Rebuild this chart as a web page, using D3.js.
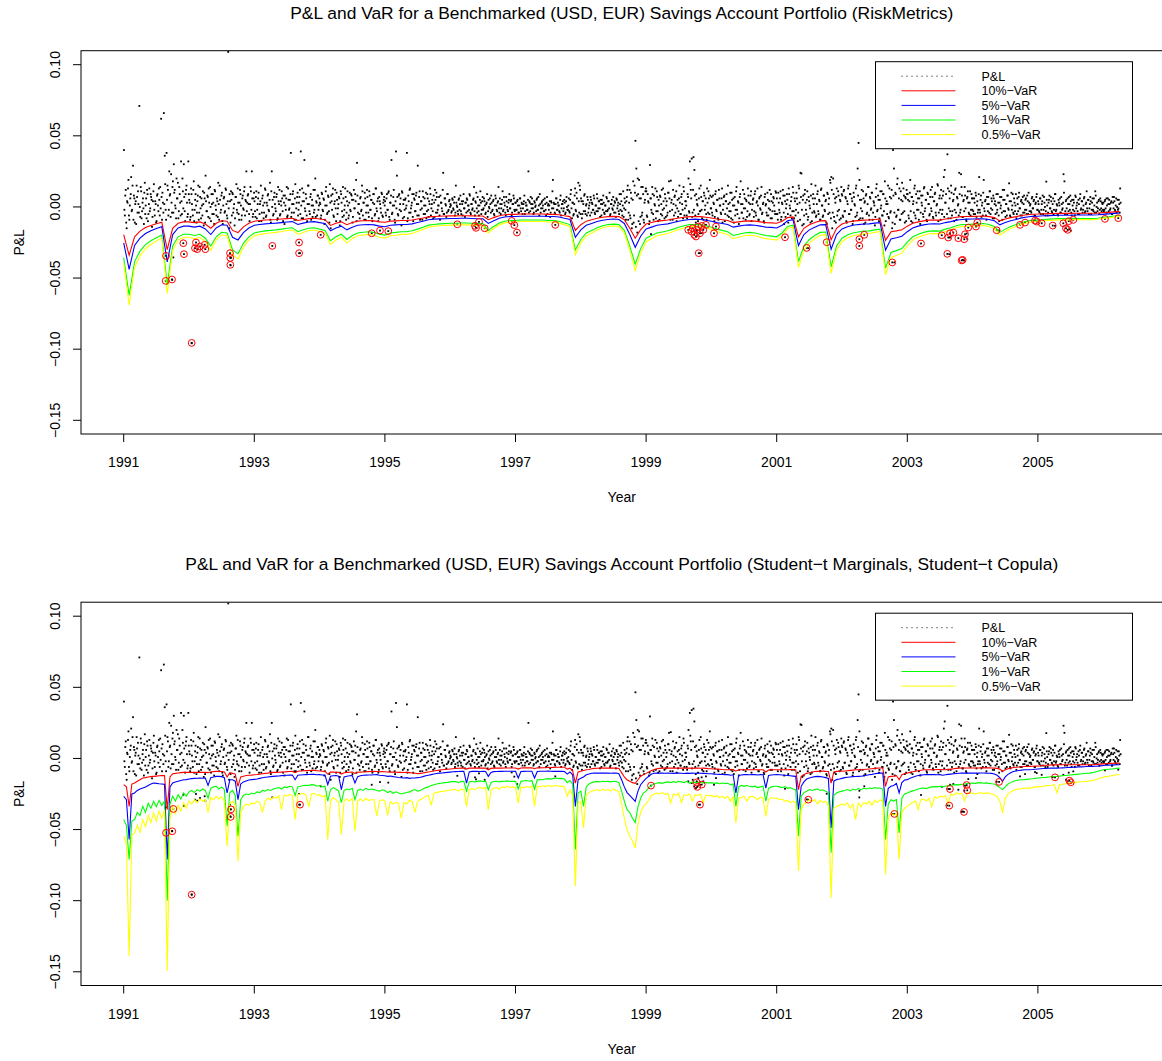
<!DOCTYPE html>
<html>
<head>
<meta charset="utf-8">
<script src="https://cdn.jsdelivr.net/npm/d3@7"></script>
<style>
  body { margin: 0; background: #fff; }
  text { font-family: "Liberation Sans", Arial, Helvetica, sans-serif; fill: #000; }
</style>
</head>
<body>
<div id="chart"></div>
<script>
// ---- data (all values in basis points, 1bp = 0.0001) ----

// daily P&L, thinned: two interleaved runs of observations per calendar year
const pnl1991 = [400,-60,120,-150,30,190,-90,60,210,-20,290,80,-110,40,150,-40,20,710,-70,110,-30,60,-120,170,10,-80,90,-50,130,-10,70,-140,40,160,-60,20,-100,90,-30,50,140,620,-90,30,660,360,-20,380,150,-60,250,90,230,-40,180,300,120,-10,200,60,-80,140,30,320,-50,110,300,-30,90,150,-70,320];
const pnl1991b = [-20,80,-110,40,130,-60,10,90,-30,150,-90,60,20,-120,70,110,-40,0,140,-80,30,-10,100,-50,60,120,-100,20,-30,90,50,-70,110,-20,40,-110,80,10,130,-60,-10,70,100,-40,20,160,-90,50,120,-20,80,-70,30,140,-40,100,10,-80,60,170,-30,90,-60,40,200,-10,70,-100,120,30,-50,90];
const pnl1992 = [50,-90,130,20,-60,180,-20,90,-110,40,150,-40,70,-80,10,110,-130,60,220,-30,80,-70,30,140,-100,20,90,-50,120,10,-60,40,170,-90,50,-20,100,-120,60,-40,130,20,-80,1090,-150,40,110,-60,90,-10,-130,70,160,-40,30,-90,120,10,-60,80,-20,140,50,250,30,90,-50,20,110,250,-70,60];
const pnl1992b = [30,-70,90,-20,120,-100,50,10,-40,80,-90,140,-10,60,-60,20,100,-110,40,-30,70,130,-80,0,90,-50,30,-120,110,-20,60,-70,20,150,-40,80,-100,10,70,-30,120,-60,40,-10,90,-110,50,100,-40,20,-80,70,-20,130,-50,30,90,-90,60,-10,110,-60,40,-30,80,20,-100,140,-20,60,-50,100];
const pnl1993 = [40,-70,110,-20,60,-100,20,150,-40,80,-80,30,120,-60,10,90,-30,170,-110,250,50,-50,100,-10,70,-90,140,20,-60,40,110,-30,80,-120,10,60,-70,130,-20,50,380,-40,90,20,-90,160,-10,70,-60,30,120,390,-80,40,100,330,-30,60,-100,150,20,-50,90,10,-70,120,-20,200,40,-60,80,10];
const pnl1993b = [-30,70,-80,20,100,-50,40,-100,60,10,-40,130,-70,30,80,-20,50,-90,110,0,-60,70,20,-30,90,-80,40,120,-50,10,60,-100,30,80,-20,140,-60,50,-10,90,-70,20,110,-40,60,-90,30,100,-20,70,-50,10,130,-80,40,-10,90,-60,20,150,-30,70,-90,50,10,-40,120,-70,30,80,-20,60];
const pnl1994 = [30,-80,100,-20,60,-120,10,140,-50,80,-30,160,-150,40,90,-60,20,120,-100,50,-10,70,-130,110,30,-70,60,-20,130,-90,40,10,-60,100,-30,80,-110,50,-10,90,190,310,-40,20,-80,70,-20,110,30,-90,60,-40,120,10,-70,80,-20,50,-100,90,20,-50,130,-30,60,-80,40,-10,100,-60,30,70];
const pnl1994b = [20,-60,90,-30,50,-90,110,10,-40,70,-110,30,80,-20,130,-70,40,-10,100,-50,20,60,-100,90,-30,140,-60,10,70,-40,110,-80,30,-20,90,50,-70,120,-10,40,-100,80,20,-50,60,-30,150,-60,30,100,-90,10,70,-40,110,-20,50,-80,30,90,-60,130,-10,40,-100,70,20,-40,90,-70,50,10];
const pnl1995 = [40,-60,90,-20,110,-90,30,330,-40,70,10,-110,390,220,-50,80,-20,60,-130,100,20,-70,50,-10,380,-80,40,120,-40,10,90,-100,60,-30,80,20,290,-60,110,-20,40,-90,70,10,-50,100,-30,60,-70,20,90,-10,50,-80,30,120,-40,70,-20,10,-60,80,30,-30,240,-50,60,10,-40,90,-20,50];
const pnl1995b = [-40,60,-20,100,-70,30,80,-50,10,120,-90,40,-10,70,-60,90,20,-30,110,-80,50,-20,60,10,-100,80,-40,130,-10,30,-70,90,50,-30,100,-60,20,70,-90,40,-10,110,-50,60,10,-80,90,-20,40,130,-60,20,-30,80,-70,50,100,-40,10,70,-90,30,-10,120,-50,60,20,-70,90,-30,40,0];
const pnl1996 = [20,-40,60,-10,30,-60,150,10,-30,50,-20,80,-50,20,40,-10,-70,30,60,-30,10,90,-40,20,-20,50,140,-60,30,-10,70,-30,10,110,-50,40,-20,60,10,-40,30,-70,50,-10,20,80,-30,40,-50,10,60,-20,30,140,-40,20,-10,50,-30,70,10,-60,40,-20,30,90,-10,50,-40,20,60,-30];
const pnl1996b = [10,-30,50,-20,70,-40,30,0,-50,60,20,-30,40,-60,90,-10,30,-40,50,10,-20,80,-50,20,-10,60,-30,40,100,-40,10,-60,50,30,-20,70,-10,40,-50,20,90,-30,0,60,-40,30,-20,50,-60,80,10,-30,40,-10,60,-50,20,110,-20,30,-40,70,0,-30,50,-10,40,-60,20,80,-20,30];
const pnl1997 = [30,-20,50,-40,10,60,-30,20,-10,40,-50,30,10,-20,250,40,-30,20,60,-10,-40,30,10,50,-20,70,-60,20,-10,40,10,-30,60,-20,30,-50,20,10,-70,40,-10,190,30,-40,20,60,-20,10,-30,50,-60,20,40,-10,30,-40,70,-20,10,-30,50,120,-80,30,-50,80,-20,100,-60,170,-40,120];
const pnl1997b = [-20,40,10,-40,60,-10,30,-50,20,80,-30,10,-20,50,-40,30,70,-10,20,-50,40,0,-30,60,-20,10,90,-40,30,-10,50,-30,20,-60,70,10,-20,40,-40,30,110,-10,20,-50,60,-20,30,10,-40,80,-10,20,-30,50,-50,40,0,-20,60,-40,90,-10,30,-60,20,130,-30,60,-70,40,150,-50];
const pnl1998 = [60,-80,40,-30,90,-50,20,70,-40,10,-60,50,30,-20,80,-40,10,-30,60,-10,40,-70,20,50,-20,30,-50,10,70,-30,40,-10,-60,20,50,-20,10,40,-40,60,-10,30,-50,20,90,-30,10,-70,60,-20,40,120,-90,30,-60,100,-150,50,-110,150,465,270,-180,90,190,-120,60,-60,140,-90,30,110];
const pnl1998b = [40,-50,20,80,-30,10,-60,50,-10,30,70,-40,20,-20,60,-50,10,90,-30,40,-10,50,-60,20,80,-40,10,-30,60,-20,40,100,-50,20,-10,70,-40,30,-70,50,10,-30,90,-20,40,-60,110,-10,30,-90,70,150,-40,120,-80,60,-120,180,-60,100,-140,80,200,-100,60,-70,140,-40,90,-110,50,130];
const pnl1999 = [110,-70,40,-120,295,60,-40,90,-90,20,130,-30,70,-100,10,80,-50,120,-20,40,-80,60,10,-60,100,180,-30,185,50,-90,20,70,-40,110,-10,-70,60,30,-50,90,-20,140,-60,40,10,-80,70,-30,320,120,340,-40,350,260,-60,90,20,-100,60,-30,150,-20,40,-90,80,10,-50,130,-40,60,190,-10];
const pnl1999b = [-60,90,30,-100,60,-20,140,-50,80,10,-80,110,-30,50,-90,70,20,-60,130,-10,90,-70,40,-40,100,60,-90,30,-20,120,-60,80,10,-100,50,-30,150,-50,70,20,-80,110,-10,40,-60,90,200,-40,160,60,-70,120,-20,80,-110,50,10,-50,130,-30,70,-80,40,100,-20,60,-90,30,110,-50,80,-10];
const pnl2000 = [70,-60,30,-100,90,-20,50,-80,120,10,-40,60,-110,20,80,-50,40,-10,150,-70,30,-30,100,-90,60,10,-60,110,-20,40,-120,70,180,-40,20,-80,90,-10,50,-70,130,30,-50,80,-100,20,60,-30,110,-60,40,10,-90,70,-20,140,-40,30,-110,90,20,-60,50,-10,120,-80,40,-30,70,10,-50,100];
const pnl2000b = [-40,80,20,-70,110,-30,50,-90,60,10,-50,130,-20,70,-100,40,90,-60,20,-30,100,-80,50,10,-110,70,-20,140,-50,30,-80,90,20,-40,120,-10,60,-90,40,-30,80,-60,20,110,-20,50,-70,90,-40,30,130,-90,60,-10,80,-50,20,-100,70,10,-40,100,-60,40,-20,90,-80,30,60,-30,110,-50];
const pnl2001 = [60,-90,30,-40,110,-70,20,80,-120,40,-10,90,-50,130,10,-60,70,-30,100,-80,40,-20,60,-100,150,30,240,235,-130,80,-60,120,-20,50,-90,70,10,-110,160,-40,90,-30,60,-70,20,110,-50,40,-90,130,10,-60,80,-30,50,-120,90,20,-40,170,210,-150,200,-70,60,-110,130,-30,80,-90,40,140];
const pnl2001b = [-50,100,-20,60,-90,30,120,-40,80,-70,20,50,-110,90,-10,40,-80,140,-30,60,-60,100,20,-40,130,-90,70,-20,50,-120,90,30,-50,110,-70,40,-10,80,-100,60,20,-40,150,-60,90,-30,50,-90,120,10,-70,80,-20,40,-110,100,-50,60,190,-80,120,-40,90,-100,30,70,-60,110,-20,50,-80,90];
const pnl2002 = [80,-70,120,-30,60,-110,20,150,-50,90,-20,40,-100,70,10,130,-60,270,450,190,-80,50,-30,110,-120,40,80,-50,20,140,-90,60,-10,100,-40,30,-130,70,160,-20,50,-80,110,10,-60,90,-30,180,-100,40,20,-70,130,-40,60,-150,400,270,-120,90,-60,200,-20,130,-90,50,170,-40,80,-110,60,120];
const pnl2002b = [-60,110,-30,70,-100,40,130,-50,90,-20,60,-120,100,20,-70,150,-40,80,-90,50,-10,120,-80,60,30,-110,90,-40,140,-60,70,-20,100,-90,40,10,-70,130,-30,80,-100,50,-10,110,-60,90,-130,60,20,-50,150,-80,70,-30,120,-110,80,-40,100,-70,160,-20,60,-90,110,-50,40,130,-30,70,-100,90];
const pnl2003 = [90,-60,40,190,-100,70,20,-40,150,-80,30,110,-20,60,-120,80,10,-50,130,-30,50,-90,100,20,-60,70,-10,140,-70,40,90,-40,10,160,-100,60,-20,120,-50,80,210,260,30,445,370,-80,110,-30,150,-60,40,90,-20,130,-90,60,20,240,-40,230,80,-70,50,140,-10,-100,70,30,-50,110,-20,60];
const pnl2003b = [50,-80,100,-30,70,-110,40,130,-60,90,-20,60,-90,110,-40,30,80,-70,140,-10,50,-100,90,20,-50,120,-30,70,-80,40,100,-60,20,150,-40,80,-90,60,-20,110,-70,30,90,-50,130,-10,60,-80,100,-30,50,-100,120,-40,70,10,-60,90,-20,140,-70,40,-30,80,-90,60,110,-40,30,-60,90,-20];
const pnl2004 = [60,-50,30,100,-70,40,-20,210,-40,80,10,-60,190,-30,50,-90,20,70,-40,110,-10,40,-80,60,20,-50,90,-20,30,-100,70,10,-40,120,-30,50,-70,20,80,-10,166,-60,40,-20,90,-50,30,10,-80,60,-30,100,-10,40,-60,70,20,-40,50,-20,80,-50,30,10,-30,60,-10,40,-60,20,70,-20];
const pnl2004b = [-30,60,-50,80,10,-40,90,-20,50,-70,30,100,-10,40,-60,70,-30,20,110,-50,60,-20,80,-80,40,10,-40,90,-60,30,-10,70,-90,50,120,-30,20,-60,80,-20,40,-70,100,10,-40,60,-30,90,-50,20,70,-10,-60,50,30,-40,80,-20,60,-50,40,100,-30,20,-40,70,-10,50,-60,30,90,-20];
const pnl2005 = [40,-30,60,-50,20,80,-20,30,-60,178,10,-40,50,-10,70,-30,20,-50,40,90,-20,10,-60,30,60,-40,20,-10,230,180,-30,50,-50,20,70,-20,40,-60,10,50,-30,80,-10,30,-50,20,60,-20,40,-40,10,70,-30,30,-10,50,-50,20,40,-20,60,-30,10,110,-40,30,-10,50,-20,40,-30,20];
const pnl2005b = [20,-40,60,-20,40,-50,70,0,-30,50,-60,30,80,-10,40,-40,60,-20,90,-30,20,-50,50,10,-40,70,-20,30,100,-50,40,-10,60,-30,20,80,-40,50,-20,30,-60,70,10,-30,50,-50,90,-10,40,-20,60,-40,20,110,-30,50,-10,70,-50,30,-20,60,-40,80,0,-30,40,-50,60,-10,30,-20];
const pnl2006 = [30,-20,50,-40,10,60,-30,20,-10,40,-50,30,70,-20,10,-40,50,-10,20,130];
const pnl2006b = [-30,40,-10,60,-40,20,50,-20,30,-50,70,-10,40,-30,60,0,-20,50,-40,30];

const pnlYears = [1991,1992,1993,1994,1995,1996,1997,1998,1999,2000,2001,2002,2003,2004,2005,2006];
const pnlRunA = [pnl1991,pnl1992,pnl1993,pnl1994,pnl1995,pnl1996,pnl1997,pnl1998,pnl1999,pnl2000,pnl2001,pnl2002,pnl2003,pnl2004,pnl2005,pnl2006];
const pnlRunB = [pnl1991b,pnl1992b,pnl1993b,pnl1994b,pnl1995b,pnl1996b,pnl1997b,pnl1998b,pnl1999b,pnl2000b,pnl2001b,pnl2002b,pnl2003b,pnl2004b,pnl2005b,pnl2006b];
const pnlYearSpan = [1,1,1,1,1,1,1,1,1,1,1,1,1,1,1,0.27];

// RiskMetrics VaR, one value per month, Jan 1991 .. Apr 2006
const rmVaR10 = [
  -195,-340,-210,-170,-145,-130,-118,-108,-300,-150,-115,-105,
  -105,-110,-105,-120,-150,-115,-97,-100,-165,-180,-140,-115,
  -100,-95,-92,-90,-88,-85,-82,-80,-95,-88,-82,-80,
  -85,-90,-130,-115,-105,-125,-110,-100,-97,-95,-98,-105,
  -108,-100,-98,-95,-95,-92,-85,-78,-70,-67,-65,-64,
  -63,-63,-62,-62,-63,-64,-64,-90,-75,-62,-55,-52,
  -52,-50,-50,-50,-50,-50,-52,-52,-55,-62,-68,-165,
  -125,-100,-90,-80,-72,-68,-66,-68,-90,-150,-220,-160,
  -120,-110,-100,-96,-92,-85,-78,-72,-68,-67,-68,-72,
  -78,-85,-90,-95,-110,-105,-100,-98,-100,-105,-110,-112,
  -115,-100,-75,-70,-210,-150,-125,-110,-98,-96,-230,-150,
  -120,-108,-100,-96,-93,-92,-88,-85,-235,-175,-168,-160,
  -135,-115,-105,-98,-93,-92,-93,-85,-80,-72,-68,-67,
  -66,-65,-64,-68,-75,-98,-85,-75,-68,-60,-55,-51,
  -50,-48,-47,-46,-45,-45,-45,-44,-44,-44,-44,-43,
  -40,-38,-35,-33];
const rmVaR5 = [
  -252,-439,-271,-219,-187,-168,-152,-139,-387,-194,-148,-135,
  -135,-142,-135,-155,-194,-148,-125,-129,-213,-232,-181,-148,
  -129,-123,-119,-116,-114,-110,-106,-103,-123,-114,-106,-103,
  -110,-116,-168,-148,-135,-161,-142,-129,-125,-123,-126,-135,
  -139,-129,-126,-123,-123,-119,-110,-101,-90,-86,-84,-83,
  -81,-81,-80,-80,-81,-83,-83,-116,-97,-80,-71,-67,
  -67,-65,-65,-65,-65,-65,-67,-67,-71,-80,-88,-213,
  -161,-129,-116,-103,-93,-88,-85,-88,-116,-194,-284,-206,
  -155,-142,-129,-124,-119,-110,-101,-93,-88,-86,-88,-93,
  -101,-110,-116,-123,-142,-135,-129,-126,-129,-135,-142,-144,
  -148,-129,-97,-90,-271,-194,-161,-142,-126,-124,-297,-194,
  -155,-139,-129,-124,-120,-119,-114,-110,-303,-226,-217,-206,
  -174,-148,-135,-126,-120,-119,-120,-110,-103,-93,-88,-86,
  -85,-84,-83,-88,-97,-126,-110,-97,-88,-77,-71,-66,
  -65,-62,-61,-59,-58,-58,-58,-57,-57,-57,-57,-55,
  -52,-49,-45,-43];
const rmVaR1 = [
  -357,-622,-384,-311,-265,-238,-216,-198,-549,-275,-210,-192,
  -192,-201,-192,-220,-275,-210,-178,-183,-302,-329,-256,-210,
  -183,-174,-168,-165,-161,-156,-150,-146,-174,-161,-150,-146,
  -156,-165,-238,-210,-192,-229,-201,-183,-178,-174,-179,-192,
  -198,-183,-179,-174,-174,-168,-156,-143,-128,-123,-119,-117,
  -115,-115,-113,-113,-115,-117,-117,-165,-137,-113,-101,-95,
  -95,-92,-92,-92,-92,-92,-95,-95,-101,-113,-124,-302,
  -229,-183,-165,-146,-132,-124,-121,-124,-165,-275,-403,-293,
  -220,-201,-183,-176,-168,-156,-143,-132,-124,-123,-124,-132,
  -143,-156,-165,-174,-201,-192,-183,-179,-183,-192,-201,-205,
  -210,-183,-137,-128,-384,-275,-229,-201,-179,-176,-421,-275,
  -220,-198,-183,-176,-170,-168,-161,-156,-430,-320,-307,-293,
  -247,-210,-192,-179,-170,-168,-170,-156,-146,-132,-124,-123,
  -121,-119,-117,-124,-137,-179,-156,-137,-124,-110,-101,-93,
  -92,-88,-86,-84,-82,-82,-82,-81,-81,-81,-81,-79,
  -73,-70,-64,-60];
const rmVaR05 = [
  -396,-690,-426,-345,-294,-264,-240,-219,-609,-305,-233,-213,
  -213,-223,-213,-244,-305,-233,-197,-203,-335,-365,-284,-233,
  -203,-193,-187,-183,-179,-173,-166,-162,-193,-179,-166,-162,
  -173,-183,-264,-233,-213,-254,-223,-203,-197,-193,-199,-213,
  -219,-203,-199,-193,-193,-187,-173,-158,-142,-136,-132,-130,
  -128,-128,-126,-126,-128,-130,-130,-183,-152,-126,-112,-106,
  -106,-102,-102,-102,-102,-102,-106,-106,-112,-126,-138,-335,
  -254,-203,-183,-162,-146,-138,-134,-138,-183,-305,-447,-325,
  -244,-223,-203,-195,-187,-173,-158,-146,-138,-136,-138,-146,
  -158,-173,-183,-193,-223,-213,-203,-199,-203,-213,-223,-227,
  -233,-203,-152,-142,-426,-305,-254,-223,-199,-195,-467,-305,
  -244,-219,-203,-195,-189,-187,-179,-173,-477,-355,-341,-325,
  -274,-233,-213,-199,-189,-187,-189,-173,-162,-146,-138,-136,
  -134,-132,-130,-138,-152,-199,-173,-152,-138,-122,-112,-104,
  -102,-97,-95,-93,-91,-91,-91,-89,-89,-89,-89,-87,
  -81,-77,-71,-67];

// Student-t marginals / Student-t copula VaR, two values per month, Jan 1991 .. Apr 2006
const stVaR10 = [
  -184,-200,-337,-180,-173,-160,-150,-138,-135,-130,-128,-126,-124,-122,-121,-120,-360,-130,-107,-105,-102,-100,-98,-98,
  -98,-98,-100,-98,-97,-98,-98,-100,-95,-93,-91,-91,-92,-95,-130,-100,-105,-110,-196,-130,-125,-120,-118,-117,
  -115,-113,-110,-108,-105,-103,-100,-98,-98,-97,-96,-95,-93,-92,-91,-100,-90,-88,-87,-86,-85,-84,-84,-86,
  -88,-90,-91,-110,-95,-96,-97,-98,-110,-100,-98,-97,-96,-105,-97,-96,-95,-94,-93,-92,-91,-92,-94,-93,
  -94,-95,-96,-96,-97,-98,-98,-99,-98,-100,-102,-104,-107,-105,-102,-98,-95,-92,-88,-85,-82,-80,-78,-76,
  -74,-72,-70,-69,-68,-68,-75,-68,-68,-68,-68,-68,-68,-68,-80,-70,-68,-68,-68,-68,-67,-67,-67,-67,
  -67,-75,-67,-66,-66,-66,-66,-72,-66,-66,-65,-65,-64,-64,-63,-62,-62,-61,-62,-75,-68,-85,-173,-95,
  -90,-85,-80,-78,-72,-70,-69,-68,-68,-68,-68,-68,-68,-68,-70,-100,-130,-150,-160,-170,-175,-150,-125,-114,
  -105,-95,-85,-78,-72,-70,-68,-68,-68,-68,-68,-68,-68,-68,-68,-69,-68,-70,-68,-68,-69,-68,-70,-72,
  -72,-74,-75,-76,-78,-79,-79,-80,-79,-90,-80,-79,-79,-79,-79,-80,-79,-80,-79,-80,-95,-82,-80,-80,
  -80,-80,-80,-79,-79,-78,-79,-80,-219,-126,-115,-105,-100,-95,-92,-91,-90,-89,-91,-92,-173,-95,-91,-90,
  -90,-88,-86,-84,-82,-80,-79,-79,-78,-76,-74,-72,-70,-68,-67,-67,-196,-130,-126,-125,-120,-150,-115,-108,
  -103,-98,-94,-90,-86,-83,-80,-79,-79,-79,-79,-78,-78,-80,-79,-77,-75,-72,-70,-68,-67,-67,-67,-67,
  -67,-67,-67,-66,-66,-66,-66,-67,-68,-70,-75,-91,-80,-72,-68,-64,-62,-60,-58,-57,-56,-56,-55,-54,
  -53,-52,-50,-48,-47,-46,-45,-44,-44,-44,-44,-44,-44,-44,-44,-44,-44,-44,-44,-44,-44,-43,-42,-40,
  -38,-37,-36,-35,-34,-33,-33];
const stVaR5 = [
  -266,-290,-570,-250,-243,-225,-215,-208,-200,-190,-180,-173,-175,-178,-180,-182,-710,-200,-173,-165,-160,-155,-150,-149,
  -145,-142,-140,-139,-138,-139,-138,-190,-135,-130,-126,-126,-128,-135,-243,-150,-150,-160,-290,-180,-165,-158,-152,-149,
  -147,-145,-140,-136,-132,-130,-128,-126,-124,-123,-121,-120,-118,-117,-117,-150,-118,-116,-115,-114,-113,-112,-112,-115,
  -114,-116,-118,-184,-125,-122,-120,-125,-219,-130,-125,-122,-120,-173,-128,-122,-118,-117,-116,-116,-115,-114,-118,-120,
  -122,-126,-124,-128,-130,-134,-136,-138,-135,-140,-138,-137,-135,-132,-128,-122,-118,-114,-110,-106,-103,-102,-100,-98,
  -96,-94,-93,-92,-91,-91,-173,-95,-91,-91,-91,-92,-91,-92,-126,-98,-93,-92,-91,-91,-90,-90,-90,-90,
  -91,-138,-92,-91,-90,-90,-90,-138,-92,-90,-90,-90,-89,-90,-91,-90,-91,-91,-92,-110,-95,-115,-337,-149,
  -140,-130,-115,-110,-104,-103,-103,-103,-102,-103,-103,-104,-103,-103,-108,-150,-200,-240,-260,-280,-302,-230,-185,-161,
  -140,-125,-110,-104,-103,-103,-103,-104,-103,-104,-105,-103,-103,-104,-106,-103,-105,-103,-104,-103,-104,-105,-106,-108,
  -108,-110,-111,-112,-113,-114,-114,-118,-115,-243,-120,-116,-114,-114,-115,-114,-114,-116,-114,-115,-208,-120,-116,-115,
  -114,-115,-116,-118,-120,-122,-124,-126,-360,-196,-165,-145,-138,-132,-128,-126,-128,-130,-135,-140,-488,-160,-149,-145,
  -140,-135,-132,-130,-128,-127,-126,-125,-122,-118,-115,-112,-108,-105,-103,-103,-337,-210,-196,-190,-175,-243,-170,-152,
  -149,-140,-132,-125,-120,-117,-115,-114,-114,-114,-114,-115,-114,-118,-115,-112,-110,-108,-106,-104,-103,-103,-103,-103,
  -103,-103,-103,-102,-102,-103,-104,-105,-110,-118,-135,-161,-130,-112,-100,-92,-88,-85,-82,-80,-79,-79,-78,-76,
  -74,-72,-71,-70,-69,-68,-68,-68,-67,-66,-65,-64,-63,-62,-61,-60,-59,-58,-57,-57,-56,-55,-54,-52,
  -50,-48,-47,-46,-45,-44,-44];
const stVaR1 = [
  -430,-470,-710,-440,-430,-380,-400,-337,-380,-315,-350,-302,-340,-295,-330,-300,-1000,-320,-266,-300,-255,-285,-243,-265,
  -235,-225,-240,-219,-230,-215,-225,-280,-210,-200,-196,-215,-200,-220,-477,-240,-225,-260,-547,-290,-260,-250,-255,-243,
  -250,-235,-240,-225,-230,-219,-225,-215,-210,-205,-215,-200,-205,-196,-200,-260,-200,-195,-190,-188,-190,-184,-186,-195,
  -190,-200,-195,-300,-220,-205,-215,-230,-310,-225,-215,-220,-210,-290,-225,-215,-225,-210,-220,-215,-219,-225,-230,-220,
  -225,-240,-230,-245,-235,-243,-250,-245,-240,-235,-225,-219,-230,-225,-215,-205,-200,-190,-185,-180,-175,-173,-170,-168,
  -165,-163,-162,-170,-160,-161,-230,-165,-160,-165,-161,-158,-162,-160,-220,-170,-162,-160,-165,-161,-160,-158,-162,-160,
  -161,-215,-160,-158,-155,-160,-155,-215,-150,-148,-150,-145,-142,-145,-140,-138,-142,-140,-145,-170,-155,-180,-640,-243,
  -230,-337,-200,-180,-170,-165,-161,-165,-160,-162,-161,-165,-160,-162,-170,-230,-300,-360,-380,-420,-450,-340,-280,-243,
  -230,-205,-190,-180,-173,-170,-175,-168,-165,-170,-163,-168,-161,-165,-170,-161,-175,-165,-170,-168,-165,-172,-170,-173,
  -170,-175,-172,-178,-173,-176,-175,-185,-180,-337,-200,-190,-196,-190,-196,-200,-195,-205,-200,-195,-300,-210,-200,-196,
  -196,-200,-205,-198,-210,-205,-215,-219,-547,-266,-240,-230,-219,-225,-219,-215,-225,-220,-230,-240,-663,-260,-243,-235,
  -230,-225,-219,-228,-215,-222,-212,-220,-210,-215,-208,-212,-205,-210,-208,-215,-570,-320,-290,-300,-290,-523,-280,-250,
  -243,-235,-228,-222,-215,-210,-208,-212,-205,-200,-198,-200,-196,-200,-195,-190,-188,-186,-184,-186,-182,-180,-176,-175,
  -173,-175,-172,-170,-174,-172,-175,-178,-180,-190,-205,-219,-200,-180,-170,-160,-155,-152,-150,-149,-147,-145,-143,-140,
  -138,-136,-134,-133,-130,-128,-127,-126,-124,-122,-120,-118,-116,-114,-112,-110,-108,-106,-104,-103,-100,-95,-90,-85,
  -80,-78,-76,-74,-72,-70,-68];
const stVaR05 = [
  -547,-600,-1389,-540,-523,-470,-520,-430,-480,-400,-450,-383,-440,-370,-420,-360,-1494,-420,-337,-390,-330,-370,-313,-350,
  -300,-320,-290,-310,-285,-300,-290,-380,-275,-290,-266,-285,-270,-300,-617,-320,-300,-330,-722,-380,-340,-320,-330,-313,
  -320,-300,-310,-380,-300,-278,-290,-270,-280,-262,-360,-255,-265,-254,-260,-430,-255,-250,-245,-260,-340,-250,-245,-260,
  -255,-270,-260,-570,-300,-275,-290,-310,-535,-300,-285,-300,-280,-512,-300,-285,-300,-280,-295,-290,-290,-406,-300,-290,
  -300,-400,-305,-320,-310,-313,-420,-310,-320,-295,-300,-380,-305,-290,-280,-265,-260,-330,-245,-240,-235,-231,-230,-225,
  -222,-220,-218,-230,-215,-219,-337,-220,-212,-220,-208,-205,-212,-205,-360,-225,-210,-205,-215,-200,-205,-196,-205,-200,
  -205,-313,-200,-205,-198,-202,-196,-337,-195,-200,-192,-198,-190,-196,-192,-190,-196,-195,-200,-266,-220,-260,-898,-313,
  -300,-488,-260,-240,-230,-225,-219,-228,-215,-225,-219,-230,-215,-225,-235,-320,-420,-500,-547,-580,-629,-460,-380,-337,
  -320,-290,-260,-250,-243,-250,-240,-255,-245,-313,-250,-260,-245,-310,-254,-260,-250,-300,-255,-260,-250,-310,-258,-262,
  -260,-270,-262,-275,-266,-280,-266,-300,-270,-453,-280,-275,-266,-300,-270,-266,-275,-290,-270,-280,-407,-290,-275,-280,
  -278,-290,-285,-300,-295,-310,-300,-313,-792,-360,-320,-310,-290,-300,-290,-320,-295,-310,-300,-330,-979,-350,-337,-330,
  -320,-330,-313,-350,-320,-430,-313,-340,-310,-320,-300,-330,-295,-310,-290,-300,-815,-420,-383,-400,-390,-710,-380,-350,
  -337,-320,-310,-300,-360,-290,-285,-300,-280,-340,-270,-280,-266,-270,-262,-320,-250,-260,-243,-250,-245,-300,-243,-245,
  -243,-250,-245,-240,-248,-242,-245,-250,-255,-270,-300,-383,-280,-250,-235,-225,-218,-215,-212,-210,-208,-210,-205,-200,
  -200,-198,-195,-192,-190,-188,-184,-243,-184,-182,-178,-175,-172,-170,-168,-166,-164,-162,-161,-158,-155,-150,-145,-138,
  -132,-128,-125,-122,-118,-115,-114];

// days where the P&L fell through the 1%-VaR (circled), date as decimal year
const rmExceedDates = [1991.648,1991.643,1991.740,1991.913,1991.923,1992.041,1992.107,1992.092,1992.127,1992.168,1992.240,1992.250,
  1992.628,1992.632,1992.633,1993.276,1993.685,1993.686,1994.017,1994.798,1994.925,1995.052,1996.109,1996.380,1996.395,1996.441,
  1996.528,1996.942,1996.982,1997.023,1997.609,1999.646,1999.698,1999.738,1999.775,1999.800,1999.825,1999.851,1999.876,1999.917,
  1999.764,1999.714,1999.806,2000.040,2000.070,2001.127,2001.459,2001.766,2002.265,2002.266,2002.341,2002.770,2003.210,2003.527,
  2003.613,2003.628,2003.655,2003.705,2003.782,2003.833,2003.848,2003.873,2003.884,2003.934,2004.052,2004.072,2004.369,2004.726,
  2004.803,2004.956,2004.982,2005.058,2005.227,2005.389,2005.430,2005.456,2005.472,2005.542,2006.027,2006.231];
const rmExceedBp = [-344,-520,-510,-255,-332,-956,-250,-290,-297,-278,-266,-297,
  -325,-358,-407,-274,-250,-325,-196,-185,-166,-170,-122,-133,-147,-105,
  -150,-98,-128,-180,-126,-161,-173,-196,-161,-138,-185,-133,-161,-126,
  -208,-150,-325,-185,-138,-213,-288,-248,-274,-227,-196,-390,-257,-199,
  -330,-215,-185,-180,-220,-376,-372,-227,-192,-145,-138,-110,-164,-126,
  -110,-96,-103,-115,-131,-115,-150,-161,-100,-91,-84,-79];
const stExceedDates = [1991.648,1991.744,1991.760,1992.041,1992.643,1992.638,1993.700,1999.075,1999.775,1999.784,1999.851,1999.825,
  2001.484,2002.802,2003.653,2003.643,2003.868,2003.909,2003.918,2004.405,2005.262,2005.481,2005.503];
const stExceedBp = [-523,-512,-355,-958,-358,-411,-325,-191,-168,-200,-184,-325,
  -290,-390,-215,-332,-376,-187,-224,-165,-133,-156,-168];

const yTicks = [-0.15, -0.10, -0.05, 0.00, 0.05, 0.10];
const xTicks = [1991, 1993, 1995, 1997, 1999, 2001, 2003, 2005];
const legendLabels = ["P&L", "10%\u2212VaR", "5%\u2212VaR", "1%\u2212VaR", "0.5%\u2212VaR"];
const legendColors = ["#000000", "#FF0000", "#0000FF", "#00FF00", "#FFFF00"];

// ---- layout ----
const width = 1162, height = 1061;
const plotLeft = 81, plotRight = 1162.5, plotHeight = 383.3;

const svg = d3.select("#chart")
    .append("svg")
    .attr("width", width)
    .attr("height", height);

const x = d3.scaleLinear()
    .domain([1991, 2005])
    .range([123.7, 123.7 + 14 * 65.3]);

// flatten the P&L runs into dated points (run B sits between the days of run A)
const pnlPoints = [];
[[pnlRunA, 0.25], [pnlRunB, 0.75]].forEach(([run, off]) => {
    run.forEach((arr, k) => {
        arr.forEach((v, i) => {
            pnlPoints.push({ t: pnlYears[k] + (i + off) / arr.length * pnlYearSpan[k], v: v });
        });
    });
});

const monthGrid = d3.range(rmVaR10.length).map(m => 1991 + m / 12);
const halfMonthGrid = d3.range(stVaR10.length).map(m => 1991 + m / 24);

const rmExceed = rmExceedDates.map((t, i) => ({ t: t, v: rmExceedBp[i] }));
const stExceed = stExceedDates.map((t, i) => ({ t: t, v: stExceedBp[i] }));

function drawPanel(top, title, grid, series, exceed, idx) {
    const y = d3.scaleLinear()
        .domain([-0.15, 0.10])
        .range([top + 369.6, top + 14]);

    const g = svg.append("g");

    g.append("defs").append("clipPath")
        .attr("id", "clip" + idx)
        .append("rect")
        .attr("x", plotLeft)
        .attr("y", top)
        .attr("width", plotRight - plotLeft)
        .attr("height", plotHeight);

    const plot = g.append("g").attr("clip-path", "url(#clip" + idx + ")");

    // P&L dots (including the tail days from both panels)
    const allDots = pnlPoints.concat(rmExceed, stExceed);
    plot.selectAll("rect.dot")
        .data(allDots)
        .enter().append("rect")
            .attr("class", "dot")
            .attr("x", d => x(d.t) - 0.9)
            .attr("y", d => y(d.v / 1e4) - 0.9)
            .attr("width", 1.8)
            .attr("height", 1.8)
            .style("fill", "#000");

    const line = d3.line()
        .x((d, i) => x(grid[i]))
        .y(d => y(d / 1e4));

    series.forEach((s, k) => {
        plot.append("path")
            .datum(s)
            .attr("d", line)
            .style("fill", "none")
            .style("stroke", legendColors[k + 1])
            .style("stroke-width", 1.1);
    });

    plot.selectAll("circle.exceed")
        .data(exceed)
        .enter().append("circle")
            .attr("class", "exceed")
            .attr("cx", d => x(d.t))
            .attr("cy", d => y(d.v / 1e4))
            .attr("r", 3.4)
            .style("fill", "none")
            .style("stroke", "#FF0000")
            .style("stroke-width", 1);

    // box
    g.append("rect")
        .attr("x", plotLeft)
        .attr("y", top)
        .attr("width", plotRight - plotLeft)
        .attr("height", plotHeight)
        .style("fill", "none")
        .style("stroke", "#000")
        .style("stroke-width", 1);

    // y axis
    const yAxis = g.append("g");
    yAxis.selectAll("line")
        .data(yTicks)
        .enter().append("line")
            .attr("x1", plotLeft - 8).attr("x2", plotLeft)
            .attr("y1", d => y(d)).attr("y2", d => y(d))
            .style("stroke", "#000");
    yAxis.selectAll("text")
        .data(yTicks)
        .enter().append("text")
            .attr("transform", d => `translate(${plotLeft - 21},${y(d)}) rotate(-90)`)
            .attr("text-anchor", "middle")
            .style("font-size", "14px")
            .text(d => d3.format(".2f")(d).replace("-", "\u2212"));

    // x axis
    const bottom = top + plotHeight;
    const xAxis = g.append("g");
    xAxis.selectAll("line")
        .data(xTicks)
        .enter().append("line")
            .attr("x1", d => x(d)).attr("x2", d => x(d))
            .attr("y1", bottom).attr("y2", bottom + 8)
            .style("stroke", "#000");
    xAxis.selectAll("text")
        .data(xTicks)
        .enter().append("text")
            .attr("x", d => x(d))
            .attr("y", bottom + 33)
            .attr("text-anchor", "middle")
            .style("font-size", "14px")
            .text(d => d);

    g.append("text")
        .attr("x", (plotLeft + plotRight) / 2)
        .attr("y", bottom + 68)
        .attr("text-anchor", "middle")
        .style("font-size", "14px")
        .text("Year");

    g.append("text")
        .attr("transform", `translate(24,${top + plotHeight / 2}) rotate(-90)`)
        .attr("text-anchor", "middle")
        .style("font-size", "14px")
        .text("P&L");

    g.append("text")
        .attr("x", (plotLeft + plotRight) / 2)
        .attr("y", top - 32)
        .attr("text-anchor", "middle")
        .style("font-size", "17.4px")
        .text(title);

    // legend
    const lg = g.append("g").attr("transform", `translate(875.5,${top + 11})`);
    lg.append("rect")
        .attr("width", 257)
        .attr("height", 87)
        .style("fill", "#fff")
        .style("stroke", "#000");
    legendLabels.forEach((lab, k) => {
        const yy = 14.5 + k * 14.6;
        lg.append("line")
            .attr("x1", 26).attr("x2", 80)
            .attr("y1", yy).attr("y2", yy)
            .style("stroke", legendColors[k])
            .style("stroke-width", 1)
            .style("stroke-dasharray", k === 0 ? "1,4" : null);
        lg.append("text")
            .attr("x", 106)
            .attr("y", yy + 4.5)
            .style("font-size", "12.5px")
            .text(lab);
    });
}

drawPanel(50.7, "P&L and VaR for a Benchmarked (USD, EUR) Savings Account Portfolio (RiskMetrics)",
    monthGrid, [rmVaR10, rmVaR5, rmVaR1, rmVaR05], rmExceed, 1);
drawPanel(602.2, "P&L and VaR for a Benchmarked (USD, EUR) Savings Account Portfolio (Student\u2212t Marginals, Student\u2212t Copula)",
    halfMonthGrid, [stVaR10, stVaR5, stVaR1, stVaR05], stExceed, 2);
</script>
</body>
</html>
